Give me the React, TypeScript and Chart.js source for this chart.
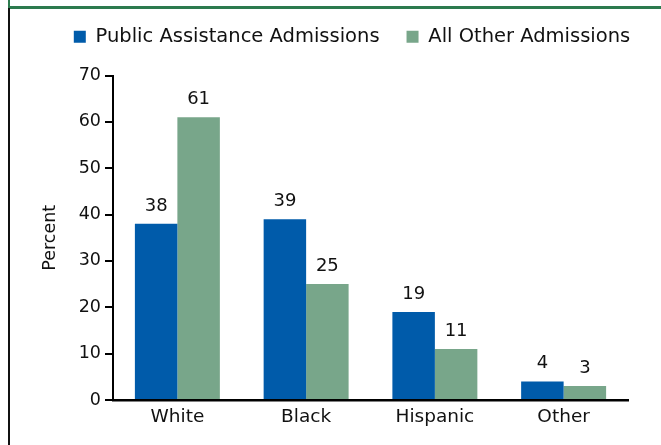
import React, { useEffect, useRef } from 'react';
import { Chart, registerables } from 'chart.js';

Chart.register(...registerables);

const categories = ['White', 'Black', 'Hispanic', 'Other'];
const seriesLabels = ['Public Assistance Admissions', 'All Other Admissions'];
const publicAssistance = [38, 39, 19, 4];
const allOther = [61, 25, 11, 3];
const yMin = 0;
const yMax = 70;
const yStep = 10;

const FONT = "'DejaVu Sans', 'Liberation Sans', sans-serif";
const TEXT = '#111111';
const BLUE = '#005BAA';
const GREEN = '#78A68A';

const valueLabels = {
  id: 'valueLabels',
  afterDatasetsDraw(chart: any) {
    const ctx = chart.ctx;
    ctx.save();
    ctx.font = `18px ${FONT}`;
    ctx.fillStyle = TEXT;
    ctx.textAlign = 'center';
    ctx.textBaseline = 'alphabetic';
    chart.data.datasets.forEach((ds: any, i: number) => {
      const meta = chart.getDatasetMeta(i);
      meta.data.forEach((el: any, j: number) => {
        ctx.fillText(String(ds.data[j]), el.x, el.y - 13);
      });
    });
    ctx.restore();
  },
};

const legendShift = {
  id: 'legendShift',
  afterLayout(chart: any) {
    const lg = chart.legend;
    if (!lg) return;
    const d = 352 - (lg.left + lg.right) / 2;
    lg.left += d;
    lg.right += d;
  },
};

export default function App() {
  const ref = useRef<HTMLCanvasElement>(null);

  useEffect(() => {
    if (!ref.current) return;
    const chart = new Chart(ref.current, {
      type: 'bar',
      data: {
        labels: categories,
        datasets: [
          {
            label: seriesLabels[0],
            data: publicAssistance,
            backgroundColor: BLUE,
            categoryPercentage: 0.66,
            barPercentage: 1,
          },
          {
            label: seriesLabels[1],
            data: allOther,
            backgroundColor: GREEN,
            categoryPercentage: 0.66,
            barPercentage: 1,
          },
        ],
      },
      options: {
        responsive: false,
        animation: false,
        events: [],
        layout: { padding: { left: 0, right: 33, top: 0, bottom: 0 } },
        plugins: {
          tooltip: { enabled: false },
          legend: {
            display: true,
            position: 'top',
            labels: {
              boxWidth: 12,
              boxHeight: 12,
              padding: 27,
              color: TEXT,
              font: { family: FONT, size: 19.5 },
            },
          },
          subtitle: {
            display: true,
            text: '',
            weight: 500,
            font: { size: 10 },
            padding: { top: 0, bottom: 7 },
          },
        },
        scales: {
          x: {
            grid: { display: false, drawTicks: false },
            border: { display: true, color: '#000', width: 2.5 },
            ticks: {
              color: TEXT,
              padding: 6,
              font: { family: FONT, size: 18.5 },
            },
            afterFit(scale: any) {
              scale.height = 45;
            },
          },
          y: {
            min: yMin,
            max: yMax,
            ticks: {
              stepSize: yStep,
              color: TEXT,
              padding: 4,
              font: { family: FONT, size: 17.5 },
            },
            grid: {
              display: true,
              drawOnChartArea: false,
              drawTicks: true,
              tickLength: 8,
              color: '#000',
              lineWidth: 2,
            },
            border: { display: true, color: '#000', width: 2 },
            title: {
              display: true,
              text: 'Percent',
              color: TEXT,
              font: { family: FONT, size: 17.5 },
              padding: { top: 40, bottom: 0 },
            },
            afterFit(scale: any) {
              scale.width = 113;
            },
          },
        },
      },
      plugins: [valueLabels, legendShift],
    } as any);
    return () => chart.destroy();
  }, []);

  return (
    <div
      style={{
        position: 'fixed',
        left: 0,
        top: 0,
        width: 661,
        height: 445,
        background: '#fff',
        overflow: 'hidden',
      }}
    >
      <div style={{ position: 'absolute', left: 8, top: 0, width: 2, height: 8, background: '#2c7a4e' }} />
      <div style={{ position: 'absolute', left: 8, top: 6, width: 653, height: 2.5, background: '#2c7a4e' }} />
      <div style={{ position: 'absolute', left: 8, top: 8, width: 2, height: 437, background: '#111' }} />
      <canvas
        ref={ref}
        width={661}
        height={445}
        style={{ position: 'absolute', left: 0, top: 0, width: 661, height: 445 }}
      />
    </div>
  );
}
